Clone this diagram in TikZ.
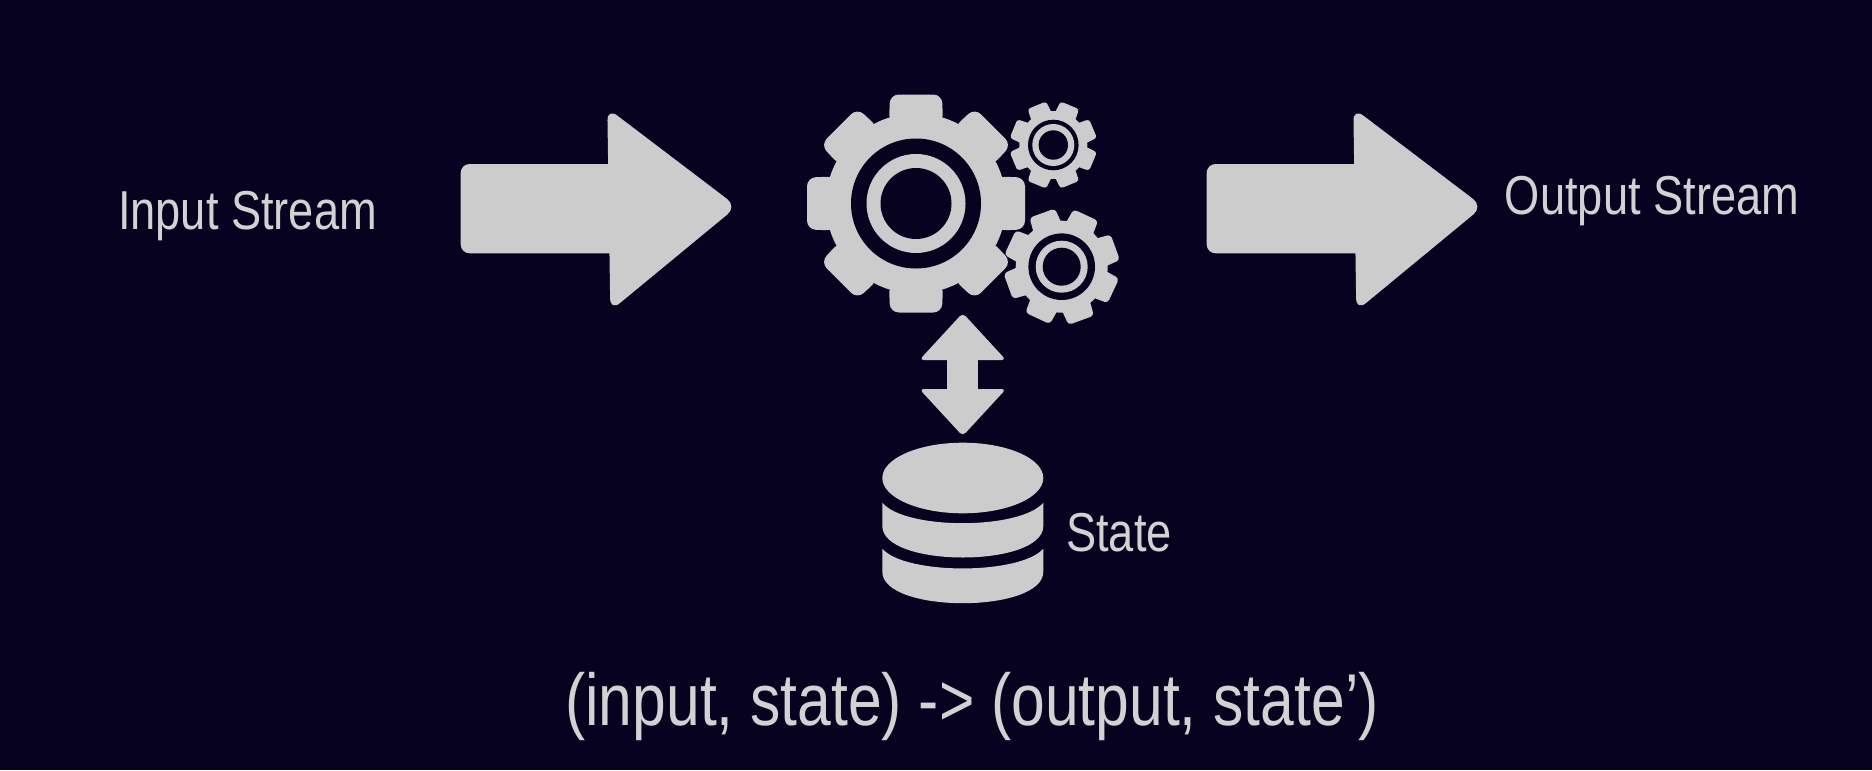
\documentclass[tikz,border=0pt]{standalone}
\usepackage{fontspec}
\setmainfont[FakeStretch=0.825]{Liberation Sans}
\definecolor{slidebg}{HTML}{06021F}
\definecolor{iconfill}{HTML}{CCCCCC}
\definecolor{labeltext}{HTML}{D2D2D2}
\tikzset{
  icon/.style={fill=iconfill,draw=none},
  hole/.style={fill=slidebg,draw=none},
  label/.style={anchor=center,inner sep=0pt,text=labeltext,font=\fontsize{15.6}{18}\selectfont},
  formula/.style={anchor=center,inner sep=0pt,text=labeltext,font=\fontsize{20.9}{25}\selectfont},
}
\begin{document}
\begin{tikzpicture}[x=.1mm,y=-.1mm,line width=.5pt]
\path[use as bounding box,fill=slidebg] (0,0) rectangle (1872,770);
\node[label] (input) at (247.5,216) {Input Stream};
\node[label] (output) at (1652,201) {Output Stream};
\node[label] (state) at (1119,533) {State};
\node[formula] (rule) at (972,706) {(input, state) -> (output, state’)};
\fill[icon,rounded corners=2.5pt] (460.7,164) rectangle (660,253.3);
\fill[icon,rounded corners=3.5pt] (607.3,108) -- (737,206.5) -- (610.3,311) -- cycle;
\fill[icon,rounded corners=2.5pt] (1206.7,164) rectangle (1406,253.3);
\fill[icon,rounded corners=3.5pt] (1353.3,108) -- (1483,206.5) -- (1356.3,311) -- cycle;
\fill[icon] (947,350) rectangle (978.3,400);
\fill[icon,rounded corners=1.2pt] (962.7,313) -- (1006,360) -- (919.4,360) -- cycle;
\fill[icon,rounded corners=1.2pt] (962.7,436) -- (1006,389) -- (919.4,389) -- cycle;
\fill[icon] (962.8,478) ellipse (80.5 and 35.3);
\fill[icon] (882.3,502.7) .. controls (905,530) and (1020,530) .. (1043.3,502.7) -- (1043.3,526) .. controls (1043.3,568) and (882.3,568) .. (882.3,526) -- cycle;
\fill[icon] (882.3,548.7) .. controls (905,575) and (1020,575) .. (1043.3,548.7) -- (1043.3,571.7) .. controls (1043.3,613.7) and (882.3,613.7) .. (882.3,571.7) -- cycle;
\foreach \a in {0,45,...,315} {
  \fill[icon,shift={(916,203.5)},rotate=\a,rounded corners=2.5pt] (-27,-80) -- (-26,-109) -- (26,-109) -- (27,-80) -- cycle;
}
\fill[icon] (916,203.5) circle (90);
\fill[hole] (916,203.5) circle (65);
\fill[icon] (916,203.5) circle (49.5);
\fill[hole] (916,203.5) circle (35.5);
\foreach \a in {0,45,...,315} {
  \fill[icon,shift={(1053.3,145)},rotate=\a+22.5,rounded corners=.8pt] (-11,-28) -- (-10,-43) -- (10,-43) -- (11,-28) -- cycle;
}
\fill[icon] (1053.3,145) circle (34);
\fill[hole] (1053.3,145) circle (25.3);
\fill[icon] (1053.3,145) circle (21);
\fill[hole] (1053.3,145) circle (14.7);
\foreach \a in {0,45,...,315} {
  \fill[icon,shift={(1061.7,266.7)},rotate=\a+20,rounded corners=1pt] (-15,-38) -- (-13.5,-57) -- (13.5,-57) -- (15,-38) -- cycle;
}
\fill[icon] (1061.7,266.7) circle (46);
\fill[hole] (1061.7,266.7) circle (33.3);
\fill[icon] (1061.7,266.7) circle (26);
\fill[hole] (1061.7,266.7) circle (19);
\end{tikzpicture}
\end{document}
